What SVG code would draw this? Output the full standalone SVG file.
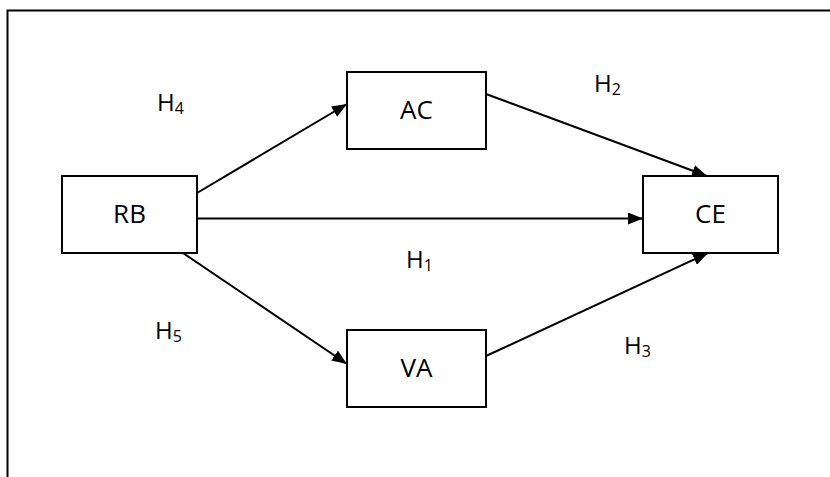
<svg xmlns="http://www.w3.org/2000/svg" width="830" height="477" viewBox="0 0 830 477">
  <style>
    .box { fill: #ffffff; stroke: #000000; stroke-width: 2; }
    .lbl { font-family: "Open Sans", "Liberation Sans", Arial, sans-serif; font-size: 26px; fill: #000000; text-anchor: middle; }
    .hyp { font-family: "Open Sans", "Liberation Sans", Arial, sans-serif; font-size: 24px; fill: #000000; }
    .sub { font-size: 16px; }
    .edge { stroke: #000000; stroke-width: 2; fill: none; marker-end: url(#head); }
  </style>
  <defs>
    <marker id="head" viewBox="0 0 15 12" refX="15" refY="6" markerWidth="15" markerHeight="12" markerUnits="userSpaceOnUse" orient="auto">
      <path d="M0,0 L15,6 L0,12 Z" fill="#000000"/>
    </marker>
  </defs>

  <rect width="830" height="477" fill="#ffffff"/>

  <!-- outer frame, open at right and bottom -->
  <path d="M7.5,477 L7.5,10.5 L830,10.5" fill="none" stroke="#000000" stroke-width="2"/>

  <g id="connectors">
    <line class="edge" x1="197" y1="193" x2="347" y2="104"/>
    <line class="edge" x1="486" y1="94" x2="707" y2="176"/>
    <line class="edge" x1="197" y1="218.5" x2="643" y2="218.5"/>
    <line class="edge" x1="183" y1="253" x2="347" y2="364"/>
    <line class="edge" x1="486" y1="356" x2="708" y2="253"/>
  </g>

  <g id="node-RB">
    <rect class="box" x="62" y="176" width="135" height="77"/>
    <text class="lbl" x="129.5" y="223">RB</text>
  </g>
  <g id="node-AC">
    <rect class="box" x="347" y="72" width="139" height="77"/>
    <text class="lbl" x="416.5" y="119">AC</text>
  </g>
  <g id="node-CE">
    <rect class="box" x="643" y="176" width="135" height="77"/>
    <text class="lbl" x="710.5" y="223">CE</text>
  </g>
  <g id="node-VA">
    <rect class="box" x="347" y="330" width="139" height="77"/>
    <text class="lbl" x="416.5" y="377">VA</text>
  </g>

  <g id="labels">
    <text class="hyp" x="157" y="111">H<tspan class="sub" dy="3">4</tspan></text>
    <text class="hyp" x="594" y="92">H<tspan class="sub" dy="3">2</tspan></text>
    <text class="hyp" x="406" y="268">H<tspan class="sub" dy="3">1</tspan></text>
    <text class="hyp" x="155" y="339">H<tspan class="sub" dy="3">5</tspan></text>
    <text class="hyp" x="624" y="354">H<tspan class="sub" dy="3">3</tspan></text>
  </g>
</svg>
